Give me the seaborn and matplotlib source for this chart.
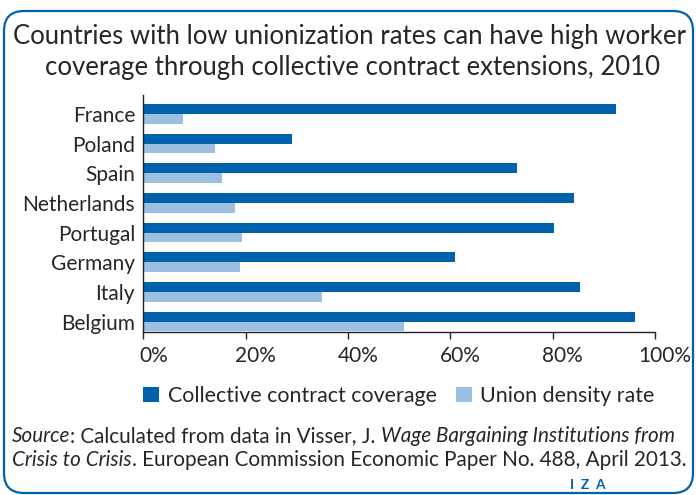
import pandas as pd
import matplotlib.pyplot as plt
import seaborn as sns
from matplotlib.patches import FancyBboxPatch
from matplotlib.transforms import ScaledTranslation

countries = ['France', 'Poland', 'Spain', 'Netherlands', 'Portugal', 'Germany', 'Italy', 'Belgium']
coverage = [92.3, 29.0, 73.1, 84.1, 80.2, 61.0, 85.3, 96.1]
density = [7.8, 14.0, 15.4, 18.0, 19.2, 18.9, 35.0, 51.0]
series = ['Collective contract coverage', 'Union density rate']

dark = '#0061ad'
light = '#9bc0e1'
txt = '#262626'

df = pd.DataFrame({
    'country': countries * 2,
    'value': coverage + density,
    'series': [series[0]] * len(countries) + [series[1]] * len(countries),
})

sns.set_style('white')
plt.rcParams['font.family'] = ['Lato', 'DejaVu Sans']

fig = plt.figure(figsize=(6.96, 4.95), dpi=100)

# rounded frame drawn in pixel coords
bg = fig.add_axes([0, 0, 1, 1], zorder=0)
bg.set_xlim(0, 696)
bg.set_ylim(495, 0)
bg.axis('off')
bg.add_patch(FancyBboxPatch((4, 11), 689, 482, boxstyle='round,pad=0,rounding_size=20',
                            fill=False, edgecolor=dark, linewidth=1.6))

ax = fig.add_axes([0.2060, 0.3293, 0.7351, 0.4788], zorder=1)
ax.patch.set_alpha(0)
sns.barplot(data=df, y='country', x='value', hue='series', orient='h',
            palette=[dark, light], saturation=1, width=0.664, linewidth=0, ax=ax, legend=True)

ax.set_xlim(0, 100)
ax.set_ylim(7.35, -0.64)
ax.set_xticks([0, 20, 40, 60, 80, 100])
ax.set_xticklabels([f'{v}%' for v in [0, 20, 40, 60, 80, 100]])
ax.set_xlabel('')
ax.set_ylabel('')
for s in ['top', 'right']:
    ax.spines[s].set_visible(False)
for s in ['left', 'bottom']:
    ax.spines[s].set_color('#222222')
    ax.spines[s].set_linewidth(1.0)
ax.tick_params(axis='y', length=0, pad=6, labelsize=15, labelcolor=txt)
ax.tick_params(axis='x', length=5, width=1.0, color='#222222', pad=5, labelsize=15, labelcolor=txt,
               direction='out', bottom=True)
for lab in ax.get_xticklabels():
    lab.set_transform(lab.get_transform() + ScaledTranslation(0.1, 0, fig.dpi_scale_trans))

handles, labels = ax.get_legend_handles_labels()
ax.legend(handles, labels, loc='upper left', bbox_to_anchor=(143 / 696, 1 - 386 / 495),
          bbox_transform=fig.transFigure, ncol=2, frameon=False, fontsize=15.4,
          handlelength=0.75, handleheight=0.75, handletextpad=0.4, columnspacing=0.9,
          borderpad=0, borderaxespad=0, labelcolor=txt)

fig.text(349.5 / 696, 1 - 44 / 495, 'Countries with low unionization rates can have high worker',
         ha='center', va='baseline', fontsize=18.5, color=txt)
fig.text(352 / 696, 1 - 75 / 495, 'coverage through collective contract extensions, 2010',
         ha='center', va='baseline', fontsize=18.5, color=txt)

# source note, mixed italic / normal
renderer = fig.canvas.get_renderer()
def write_line(parts, x, y):
    for s, style in parts:
        t = fig.text(x / 696, 1 - y / 495, s, ha='left', va='baseline', fontsize=14.85,
                     style=style, color=txt)
        x += t.get_window_extent(renderer).width

write_line([('Source', 'italic'), (': Calculated from data in Visser, J. ', 'normal'),
            ('Wage Bargaining Institutions from', 'italic')], 12, 442)
write_line([('Crisis to Crisis', 'italic'),
            ('. European Commission Economic Paper No. 488, April 2013.', 'normal')], 12, 466)

fig.text(588 / 696, 1 - 489 / 495, 'I  Z  A', ha='center', va='baseline', fontsize=10,
         fontweight='bold', color=dark)

fig.savefig('out.png', dpi=100)
